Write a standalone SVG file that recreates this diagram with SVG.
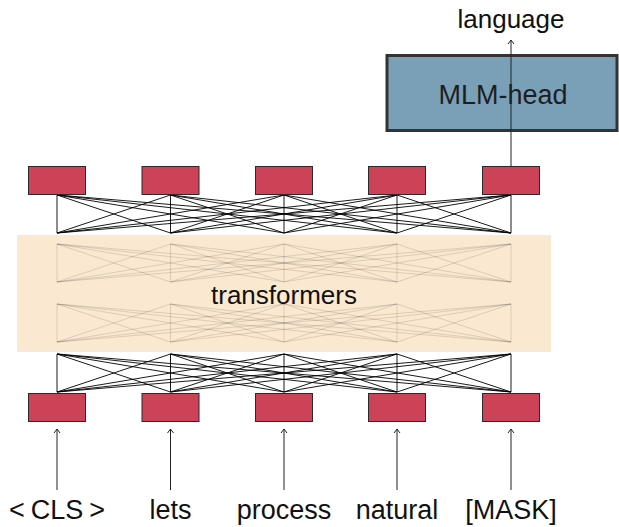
<svg xmlns="http://www.w3.org/2000/svg" xmlns:xlink="http://www.w3.org/1999/xlink" width="619" height="527" viewBox="0 0 619 527">
  <style>
    .lbl { font-family: "Liberation Sans", Arial, sans-serif; font-size: 27px; fill: #111; }
    .tok { fill: #cc4357; stroke: #2a2a2a; stroke-width: 1; }
    .dense { fill: none; stroke: #000; stroke-width: 0.9; }
    .faint { fill: none; stroke: #000; stroke-width: 0.9; stroke-opacity: 0.14; }
    .arr { fill: none; stroke: #222; stroke-width: 1; marker-end: url(#head); }
  </style>
  <defs>
    <marker id="head" viewBox="-5 -4 6 8" refX="0" refY="0" markerWidth="6" markerHeight="8" markerUnits="userSpaceOnUse" orient="auto">
      <path d="M-4,-3 L0,0 L-4,3" fill="none" stroke="#222" stroke-width="1"/>
    </marker>
    <path id="layer" d="M57 0L57 38M57 0L170.5 38M57 0L284 38M57 0L397 38M57 0L511 38
      M170.5 0L57 38M170.5 0L170.5 38M170.5 0L284 38M170.5 0L397 38M170.5 0L511 38
      M284 0L57 38M284 0L170.5 38M284 0L284 38M284 0L397 38M284 0L511 38
      M397 0L57 38M397 0L170.5 38M397 0L284 38M397 0L397 38M397 0L511 38
      M511 0L57 38M511 0L170.5 38M511 0L284 38M511 0L397 38M511 0L511 38"/>
  </defs>

  <g id="transformers">
    <rect x="17" y="235" width="534" height="117" fill="#fbe8d0"/>
    <use xlink:href="#layer" href="#layer" class="faint" transform="translate(0,244)"/>
    <use xlink:href="#layer" href="#layer" class="faint" transform="translate(0,304)"/>
    <text class="lbl" x="284" y="304" text-anchor="middle" style="font-size:26px">transformers</text>
  </g>

  <g id="connectors">
    <use xlink:href="#layer" href="#layer" class="dense" transform="translate(0,195)"/>
    <use xlink:href="#layer" href="#layer" class="dense" transform="translate(0,354)"/>
    <line class="arr" x1="57" y1="490" x2="57" y2="429"/>
    <line class="arr" x1="170.5" y1="490" x2="170.5" y2="429"/>
    <line class="arr" x1="284" y1="490" x2="284" y2="429"/>
    <line class="arr" x1="397" y1="490" x2="397" y2="429"/>
    <line class="arr" x1="511" y1="490" x2="511" y2="429"/>
  </g>

  <g id="top-tokens">
    <rect id="top1" class="tok" x="28.5" y="166.5" width="57" height="28"/>
    <rect id="top2" class="tok" x="142" y="166.5" width="57" height="28"/>
    <rect id="top3" class="tok" x="255.5" y="166.5" width="57" height="28"/>
    <rect id="top4" class="tok" x="368.5" y="166.5" width="57" height="28"/>
    <rect id="top5" class="tok" x="482.5" y="166.5" width="57" height="28"/>
  </g>

  <g id="bottom-tokens">
    <rect id="bot1" class="tok" x="28.5" y="393.5" width="57" height="28"/>
    <rect id="bot2" class="tok" x="142" y="393.5" width="57" height="28"/>
    <rect id="bot3" class="tok" x="255.5" y="393.5" width="57" height="28"/>
    <rect id="bot4" class="tok" x="368.5" y="393.5" width="57" height="28"/>
    <rect id="bot5" class="tok" x="482.5" y="393.5" width="57" height="28"/>
  </g>

  <g id="mlm-head">
    <rect x="387" y="55.5" width="230" height="75" fill="#7aa0b8" stroke="#333" stroke-width="3"/>
    <text class="lbl" x="503" y="104" text-anchor="middle" style="font-size:27px;fill:#1e1e1e">MLM-head</text>
  </g>

  <g id="output-connector">
    <line class="arr" x1="511" y1="166" x2="511" y2="40"/>
  </g>

  <g id="labels">
    <text class="lbl" x="511" y="28" text-anchor="middle" style="font-size:26px">language</text>
    <text class="lbl" x="57" y="519" text-anchor="middle">&lt;<tspan dx="6">CLS</tspan><tspan dx="6">&gt;</tspan></text>
    <text class="lbl" x="170.5" y="519" text-anchor="middle">lets</text>
    <text class="lbl" x="284" y="519" text-anchor="middle">process</text>
    <text class="lbl" x="397" y="519" text-anchor="middle">natural</text>
    <text class="lbl" x="511" y="519" text-anchor="middle">[MASK]</text>
  </g>
</svg>
